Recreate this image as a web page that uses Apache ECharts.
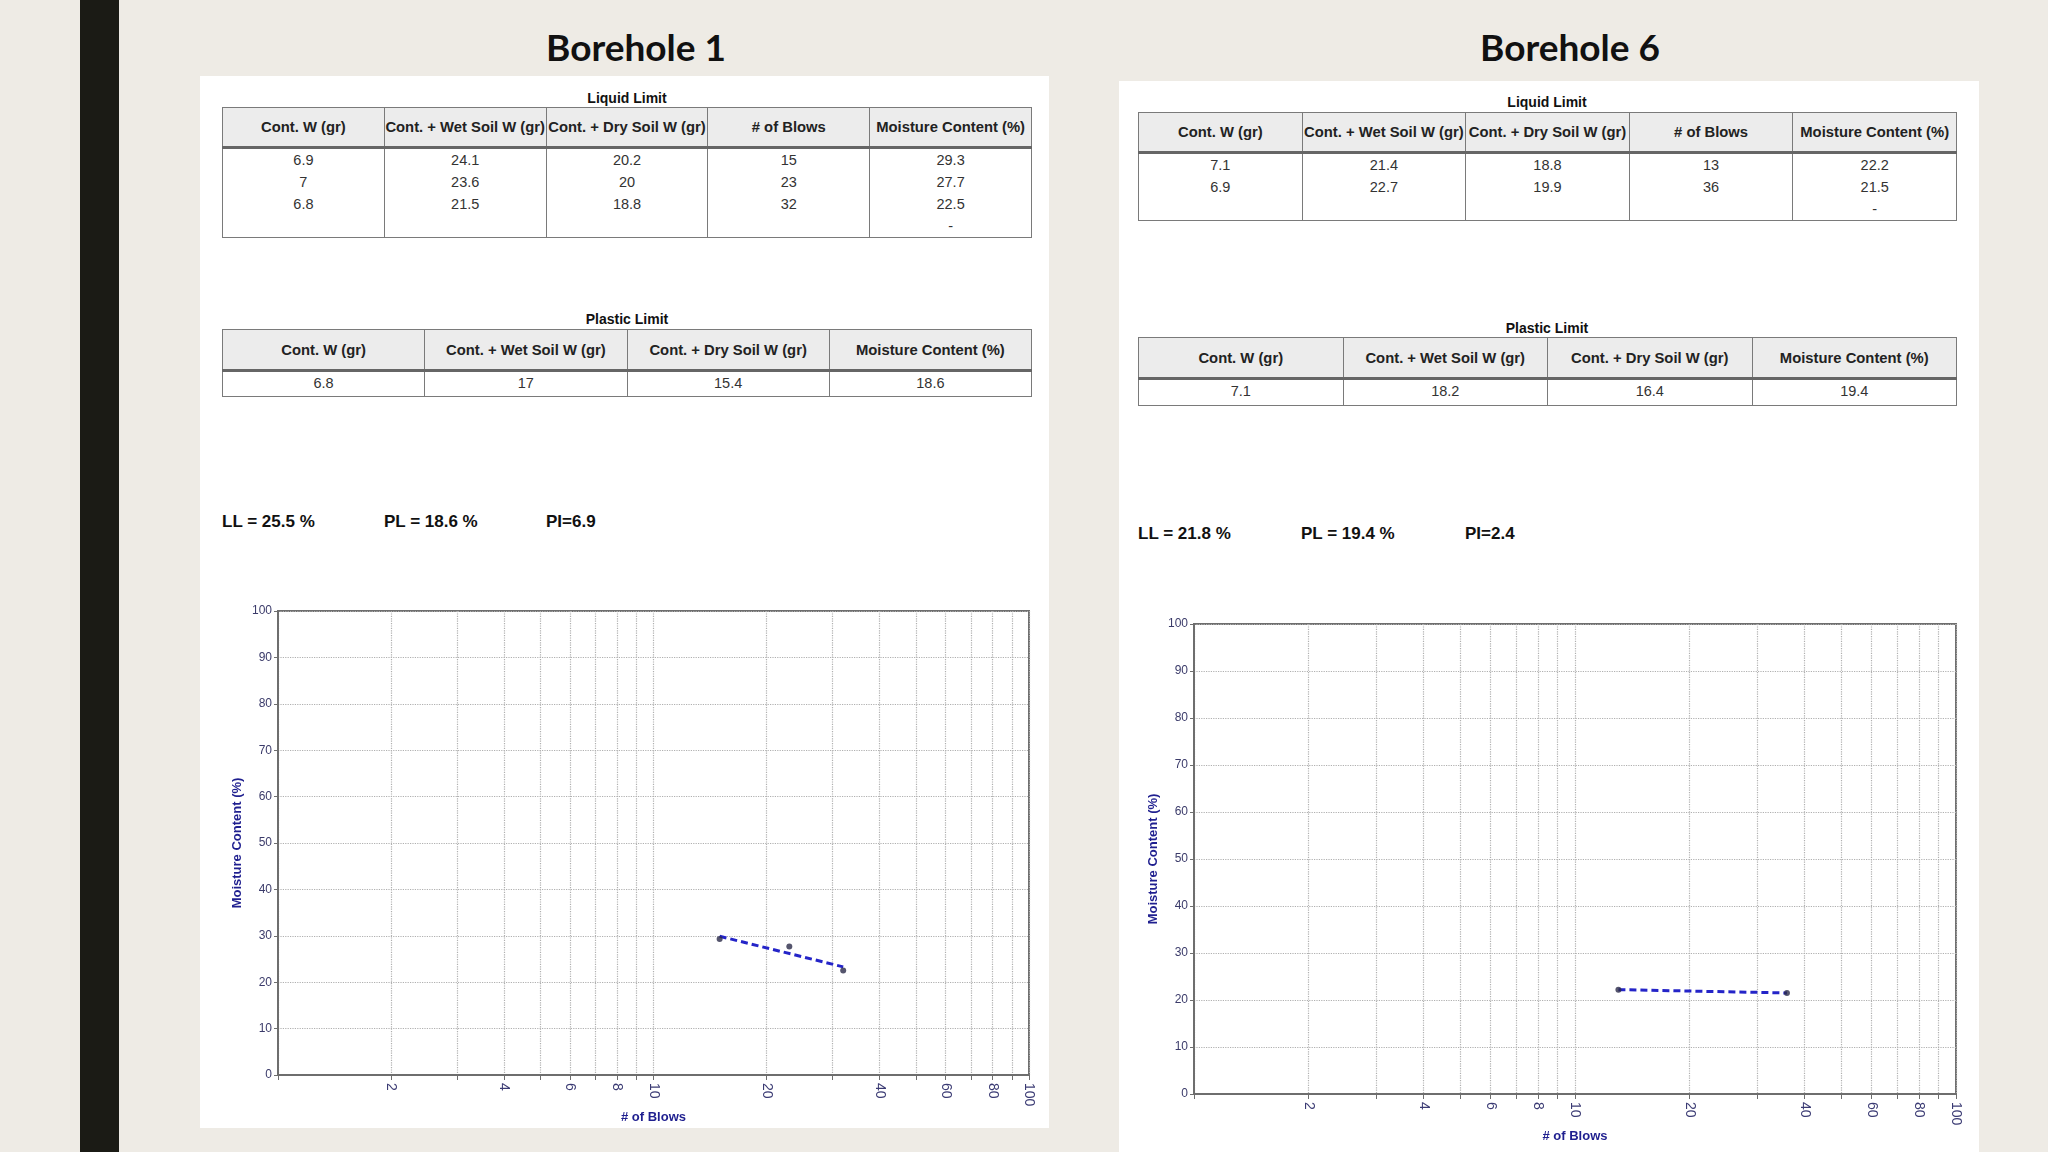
<!DOCTYPE html>
<html><head><meta charset="utf-8">
<script src="https://cdn.jsdelivr.net/npm/echarts@6/dist/echarts.min.js"></script>
<style>
html,body{margin:0;padding:0;width:2048px;height:1152px;overflow:hidden;background:#eeebe5;font-family:"Liberation Sans",Arial,sans-serif;}
#bar{position:absolute;left:80px;top:0;width:39px;height:1152px;background:#1b1b15;}
.panel{position:absolute;background:#fff;}
.title{position:absolute;font-family:Lato,"Open Sans",sans-serif;font-weight:700;font-size:37px;color:#111;transform:translate(-50%,-50%);white-space:nowrap;}
.cap{position:absolute;font-weight:700;font-size:14px;color:#111;transform:translate(-50%,-50%);white-space:nowrap;}
table{position:absolute;border-collapse:collapse;table-layout:fixed;}
th{background:#ececec;font-weight:700;font-size:14.8px;color:#222;border:1.5px solid #7a7a7a;border-bottom:3px solid #666;padding:0;white-space:nowrap;overflow:hidden;text-align:center;}
td{border:1.5px solid #7a7a7a;text-align:center;vertical-align:top;font-size:14.5px;color:#333;padding:0;line-height:22px;white-space:pre-line;}
.lim{position:absolute;font-weight:700;font-size:17px;color:#111;transform:translateY(-50%);white-space:nowrap;}
#chart{position:absolute;left:0;top:0;width:2048px;height:1152px;}
</style>
</head>
<body>
<div id="bar"></div>
<div id="page"></div>
<div id="chart"></div>
<script>
// ---------- data ----------
const boreholeTitles = ['Borehole 1', 'Borehole 6'];
const llHeaders = ['Cont. W (gr)', 'Cont. + Wet Soil W (gr)', 'Cont. + Dry Soil W (gr)', '# of Blows', 'Moisture Content (%)'];
const plHeaders = ['Cont. W (gr)', 'Cont. + Wet Soil W (gr)', 'Cont. + Dry Soil W (gr)', 'Moisture Content (%)'];

const b1ContW = [6.9, 7, 6.8];
const b1WetW = [24.1, 23.6, 21.5];
const b1DryW = [20.2, 20, 18.8];
const b1Blows = [15, 23, 32];
const b1Moisture = [29.3, 27.7, 22.5];
const b1PlasticRow = [6.8, 17, 15.4, 18.6];
const b1Limits = ['LL = 25.5 %', 'PL = 18.6 %', 'PI=6.9'];
const b1FitBlows = [15, 32];
const b1FitMoisture = [29.9, 23.3];

const b6ContW = [7.1, 6.9];
const b6WetW = [21.4, 22.7];
const b6DryW = [18.8, 19.9];
const b6Blows = [13, 36];
const b6Moisture = [22.2, 21.5];
const b6PlasticRow = [7.1, 18.2, 16.4, 19.4];
const b6Limits = ['LL = 21.8 %', 'PL = 19.4 %', 'PI=2.4'];
const b6FitBlows = [13, 36];
const b6FitMoisture = [22.2, 21.5];

const xTickValues = [1, 2, 3, 4, 5, 6, 7, 8, 9, 10, 20, 30, 40, 50, 60, 70, 80, 90, 100];
const xLabelValues = [2, 4, 6, 8, 10, 20, 40, 60, 80, 100];

// ---------- layout ----------
const panels = [
  {x:200, y:76, w:849, h:1052, tx:636, ty:46,
   llCap:[627,98], ll:{x:222,y:107,w:810,hh:38,bh:85},
   plCap:[627,319], pl:{x:222,y:329,w:810,hh:39,bh:24},
   limY:522, limX:[222,384,546],
   grid:{left:278, top:611, width:751, height:464}},
  {x:1119, y:81, w:860, h:1071, tx:1570, ty:46,
   llCap:[1547,102], ll:{x:1138,y:112,w:819,hh:38,bh:64},
   plCap:[1547,328], pl:{x:1138,y:337,w:819,hh:39,bh:25},
   limY:534, limX:[1138,1301,1465],
   grid:{left:1194, top:624, width:762, height:470}}
];
const boreholes = [
  {contW:b1ContW, wet:b1WetW, dry:b1DryW, blows:b1Blows, mc:b1Moisture, pl:b1PlasticRow, lim:b1Limits, fitB:b1FitBlows, fitM:b1FitMoisture},
  {contW:b6ContW, wet:b6WetW, dry:b6DryW, blows:b6Blows, mc:b6Moisture, pl:b6PlasticRow, lim:b6Limits, fitB:b6FitBlows, fitM:b6FitMoisture}
];

const page = document.getElementById('page');
function el(tag, cls, style, html){
  const e = document.createElement(tag);
  if (cls) e.className = cls;
  if (style) Object.assign(e.style, style);
  if (html !== undefined) e.textContent = html;
  return e;
}
function makeTable(geo, headers, cols){
  const t = el('table', null, {left:geo.x+'px', top:geo.y+'px', width:geo.w+'px'});
  const hr = document.createElement('tr');
  headers.forEach(h => { hr.appendChild(el('th', null, {height:geo.hh+'px'}, h)); });
  t.appendChild(hr);
  const br = document.createElement('tr');
  cols.forEach(c => { br.appendChild(el('td', null, {height:geo.bh+'px'}, c.join('\n'))); });
  t.appendChild(br);
  return t;
}
panels.forEach((p, i) => {
  const b = boreholes[i];
  page.appendChild(el('div','panel',{left:p.x+'px',top:p.y+'px',width:p.w+'px',height:p.h+'px'}));
  page.appendChild(el('div','title',{left:p.tx+'px',top:p.ty+'px'}, boreholeTitles[i]));
  page.appendChild(el('div','cap',{left:p.llCap[0]+'px',top:p.llCap[1]+'px'}, 'Liquid Limit'));
  page.appendChild(makeTable(p.ll, llHeaders, [b.contW, b.wet, b.dry, b.blows, b.mc.concat(['-'])]));
  page.appendChild(el('div','cap',{left:p.plCap[0]+'px',top:p.plCap[1]+'px'}, 'Plastic Limit'));
  page.appendChild(makeTable(p.pl, plHeaders, b.pl.map(v => [v])));
  b.lim.forEach((s, k) => page.appendChild(el('div','lim',{left:p.limX[k]+'px',top:p.limY+'px'}, s)));
});

// ---------- charts ----------
const FONT = '"Liberation Sans", Arial, sans-serif';
const grids = [], xAxes = [], yAxes = [], series = [];
panels.forEach((p, i) => {
  const b = boreholes[i];
  grids.push(Object.assign({show:true, borderColor:'#6e6e6e', borderWidth:2, backgroundColor:'transparent'}, p.grid));
  xAxes.push({
    type:'log', logBase:10, gridIndex:i, min:1, max:100,
    name:'# of Blows', nameLocation:'middle', nameGap:36,
    nameTextStyle:{fontWeight:'bold', fontSize:13, color:'#1f1f8f', fontFamily:FONT},
    axisLine:{show:true, onZero:false, lineStyle:{color:'#6e6e6e', width:2}},
    axisTick:{show:true, length:5, customValues:xTickValues, lineStyle:{color:'#6e6e6e'}},
    axisLabel:{customValues:xLabelValues, rotate:-90, color:'#3b3b74', fontSize:14, margin:8, fontFamily:FONT},
    splitLine:{show:true, lineStyle:{color:'#b0b0b0', type:'dotted', width:1.2}},
    minorTick:{show:false}
  });
  yAxes.push({
    type:'value', gridIndex:i, min:0, max:100, interval:10,
    name:'Moisture Content (%)', nameLocation:'middle', nameGap:34,
    nameTextStyle:{fontWeight:'bold', fontSize:13, color:'#1f1f8f', fontFamily:FONT},
    axisLine:{show:true, lineStyle:{color:'#6e6e6e', width:2}},
    axisTick:{show:true, length:4, lineStyle:{color:'#6e6e6e'}},
    axisLabel:{color:'#3b3b6a', fontSize:12, margin:6, fontFamily:FONT},
    splitLine:{show:true, lineStyle:{color:'#b0b0b0', type:'dotted', width:1.2}}
  });
  series.push({
    type:'line', xAxisIndex:i, yAxisIndex:i,
    data:b.fitB.map((v,k) => [v, b.fitM[k]]),
    showSymbol:false, lineStyle:{color:'#2424c8', width:3, type:[7,4]}, z:3
  });
  series.push({
    type:'scatter', xAxisIndex:i, yAxisIndex:i,
    data:b.blows.map((v,k) => [v, b.mc[k]]),
    symbol:'circle', symbolSize:6, itemStyle:{color:'#2a2a48'}, z:4
  });
});

const chart = echarts.init(document.getElementById('chart'), null, {renderer:'canvas'});
chart.setOption({
  animation:false,
  backgroundColor:'transparent',
  grid:grids, xAxis:xAxes, yAxis:yAxes, series:series
});
</script>
</body></html>
